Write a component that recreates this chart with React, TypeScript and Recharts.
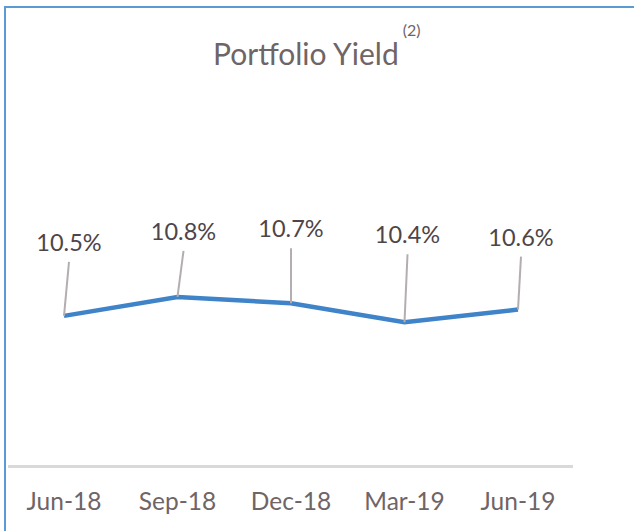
import React from 'react';
import { LineChart, Line, XAxis, YAxis, LabelList } from 'recharts';

// quarters and yield values (%)
const quarters = ['Jun-18', 'Sep-18', 'Dec-18', 'Mar-19', 'Jun-19'];
const yieldPct = [10.5, 10.8, 10.7, 10.4, 10.6];

// where each callout label sits relative to its point (layout only)
const labelNudge = [
  { dx: 5, dy: -65 },
  { dx: 6, dy: -57 },
  { dx: 0, dy: -66 },
  { dx: 3, dy: -79 },
  { dx: 3, dy: -64 },
];

const FONT = 'Lato, "Open Sans", sans-serif';
const TEXT = '#6f6466';
const LABEL = '#4e4548';

const data = quarters.map((q, i) => ({ quarter: q, value: yieldPct[i] }));

const CalloutLabel = (props: any) => {
  const { x, y, index, value } = props;
  const n = labelNudge[index] || { dx: 0, dy: -60 };
  return (
    <g>
      <line x1={x} y1={y} x2={x + n.dx} y2={y + n.dy + 11} stroke="#b5aeb0" strokeWidth={2} />
      <text x={x + n.dx} y={y + n.dy} textAnchor="middle" fill={LABEL} fontFamily={FONT} fontSize={23.5}>
        {value.toFixed(1)}%
      </text>
    </g>
  );
};

const QuarterTick = (props: any) => {
  const { x, y, payload } = props;
  return (
    <text x={x} y={y + 41} textAnchor="middle" fill={TEXT} fontFamily={FONT} fontSize={24.5}>
      {payload.value}
    </text>
  );
};

const App: React.FC = () => {
  return (
    <div style={{ position: 'absolute', left: 0, top: 0, width: 634, height: 531, overflow: 'hidden', background: '#fff' }}>
      <div
        style={{
          position: 'absolute',
          left: 4,
          top: 6,
          width: 700,
          height: 600,
          borderTop: '2px solid #5b9bd5',
          borderLeft: '2px solid #5b9bd5',
        }}
      />
      <svg width={634} height={90} style={{ position: 'absolute', left: 0, top: 0 }}>
        <text x={213} y={65} fill={TEXT} fontFamily={FONT} fontSize={30}>
          Portfolio Yield
          <tspan dx={4} dy={-29} fontSize={16}>(2)</tspan>
        </text>
      </svg>
      <div style={{ position: 'absolute', left: 0, top: 0 }}>
        <LineChart width={634} height={531} data={data} margin={{ top: 62.8, right: 61, bottom: 24, left: 8 }}>
          <XAxis
            dataKey="quarter"
            height={40.5}
            padding={{ left: 56, right: 55 }}
            axisLine={{ stroke: '#d9d9d9', strokeWidth: 3 }}
            tickLine={false}
            tickSize={0}
            tick={<QuarterTick />}
            interval={0}
          />
          <YAxis hide domain={[8.12, 14.5]} />
          <Line
            type="linear"
            dataKey="value"
            stroke="#3f83c8"
            strokeWidth={4.5}
            dot={false}
            isAnimationActive={false}
          >
            <LabelList dataKey="value" content={<CalloutLabel />} />
          </Line>
        </LineChart>
      </div>
    </div>
  );
};

export default App;
